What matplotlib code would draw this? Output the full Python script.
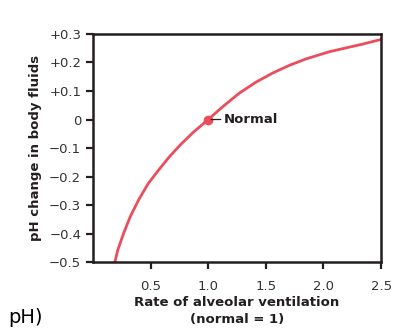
import numpy as np
import matplotlib.pyplot as plt

plt.rcParams['font.family'] = ['DejaVu Sans']

# values
ventilation = [0.19, 0.215, 0.265, 0.323, 0.396, 0.477, 0.57, 0.66, 0.76, 0.87, 1.0,
               1.123, 1.268, 1.414, 1.559, 1.704, 1.844, 2.053, 2.345, 2.5]
ph_change = [-0.5, -0.458, -0.400, -0.341, -0.282, -0.226, -0.177, -0.132, -0.088, -0.045, 0.0,
             0.044, 0.092, 0.131, 0.163, 0.190, 0.212, 0.238, 0.265, 0.281]

x_ticks = [0.5, 1.0, 1.5, 2.0, 2.5]
x_labels = ['0.5', '1.0', '1.5', '2.0', '2.5']
y_ticks = [-0.5, -0.4, -0.3, -0.2, -0.1, 0.0, 0.1, 0.2, 0.3]
y_labels = ['\u22120.5', '\u22120.4', '\u22120.3', '\u22120.2', '\u22120.1', '0', '+0.1', '+0.2', '+0.3']

normal_x, normal_y = 1.0, 0.0
red = '#ec4d5c'
dark = '#231f20'

fig = plt.figure(figsize=(4.2, 3.3), dpi=100)
ax = fig.add_axes([0.2214, 0.206, 0.686, 0.691])

ax.plot(ventilation, ph_change, color=red, lw=2.0, solid_joinstyle='round')
ax.plot([normal_x], [normal_y], 'o', color=red, ms=6, zorder=3)
ax.annotate('Normal', xy=(normal_x, normal_y), xytext=(11, 0), textcoords='offset points',
            ha='left', va='center', fontsize=9.5, fontweight='bold', color=dark,
            arrowprops=dict(arrowstyle='-', color=dark, lw=0.9, shrinkA=0, shrinkB=2))

ax.set_xlim(0, 2.5)
ax.set_ylim(-0.5, 0.3)
ax.set_xticks(x_ticks)
ax.set_xticklabels(x_labels)
ax.set_yticks(y_ticks)
ax.set_yticklabels(y_labels)

for s in ax.spines.values():
    s.set_linewidth(1.8)
    s.set_color(dark)
ax.tick_params(axis='both', direction='out', length=5, width=1.6, color=dark,
               labelsize=9.5, labelcolor='#333333')
ax.tick_params(axis='x', pad=8)
ax.tick_params(axis='y', pad=3.5)

ax.set_xlabel('Rate of alveolar ventilation\n(normal = 1)', fontsize=9.5, fontweight='bold',
              color=dark, labelpad=2, linespacing=1.45)
ax.set_ylabel('pH change in body fluids', fontsize=9.5, fontweight='bold', color=dark, labelpad=5)

fig.text(0.019, 0.021, 'pH)', fontsize=14, color='black', ha='left', va='baseline')

fig.savefig('out.png', dpi=100)
